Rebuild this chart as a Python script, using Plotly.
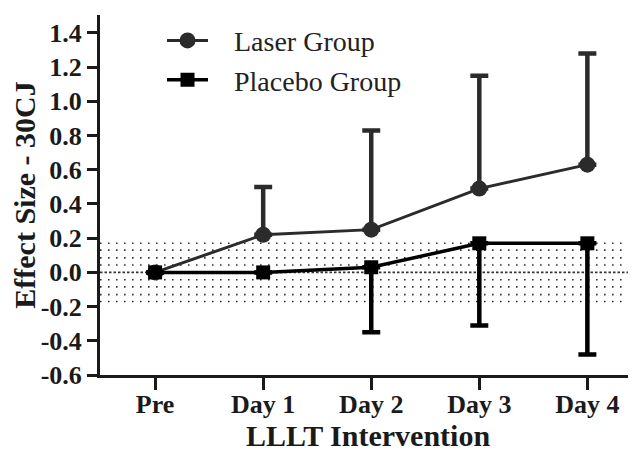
import plotly.graph_objects as go

categories = ["Pre", "Day 1", "Day 2", "Day 3", "Day 4"]

laser_mean = [0.0, 0.22, 0.25, 0.49, 0.63]
laser_err_up = [0.0, 0.28, 0.58, 0.66, 0.65]

placebo_mean = [0.0, 0.0, 0.03, 0.17, 0.17]
placebo_err_down = [0.0, 0.0, 0.38, 0.48, 0.65]

band_levels = [-0.17, -0.13, -0.085, -0.043, 0.043, 0.085, 0.13, 0.17]
zero_level = 0.0

y_tickvals = [-0.6, -0.4, -0.2, 0.0, 0.2, 0.4, 0.6, 0.8, 1.0, 1.2, 1.4]
y_ticktext = ["-0.6", "-0.4", "-0.2", "0.0", "0.2", "0.4", "0.6", "0.8", "1.0", "1.2", "1.4"]

series_names = ["Laser Group", "Placebo Group"]

LASER_C = "#2b2b2b"
PLACEBO_C = "#000000"
AXIS_C = "#1a1a1a"
SERIF = "Liberation Serif, Times New Roman, serif"
PAD = "\u00a0" * 3  # visual gap between legend symbol and label

fig = go.Figure()

fig.add_trace(go.Scatter(
    x=categories, y=laser_mean, name=PAD + series_names[0], mode="lines+markers",
    line=dict(color=LASER_C, width=3),
    marker=dict(symbol="circle", size=16, color=LASER_C),
    error_y=dict(type="data", symmetric=False, array=laser_err_up,
                 arrayminus=[0] * len(laser_err_up), color=LASER_C,
                 thickness=4.5, width=9),
))

fig.add_trace(go.Scatter(
    x=categories, y=placebo_mean, name=PAD + series_names[1], mode="lines+markers",
    line=dict(color=PLACEBO_C, width=3.5),
    marker=dict(symbol="square", size=14, color=PLACEBO_C),
    error_y=dict(type="data", symmetric=False, array=[0] * len(placebo_err_down),
                 arrayminus=placebo_err_down, color=PLACEBO_C,
                 thickness=4.5, width=9),
))

shapes = []
for lv in band_levels:
    shapes.append(dict(type="line", xref="paper", x0=0, x1=1, yref="y", y0=lv, y1=lv,
                       line=dict(color="#333333", width=1.6, dash="1.6px,6.4px"),
                       layer="below"))
shapes.append(dict(type="line", xref="paper", x0=0, x1=1, yref="y", y0=zero_level, y1=zero_level,
                   line=dict(color="#333333", width=1.6, dash="2.5px,2px"),
                   layer="below"))

fig.update_layout(
    width=628, height=444,
    margin=dict(l=92, r=0, t=7, b=77, autoexpand=False),
    paper_bgcolor="white", plot_bgcolor="white",
    shapes=shapes,
    showlegend=True,
    legend=dict(x=0.1157, y=0.998, xanchor="left", yanchor="top",
                font=dict(family=SERIF, size=28, color="#222222"),
                bgcolor="rgba(0,0,0,0)", itemwidth=41),
    xaxis=dict(
        type="category", categoryorder="array", categoryarray=categories,
        range=[-0.51, 4.45], automargin=False,
        showline=True, linecolor=AXIS_C, linewidth=3,
        ticks="outside", ticklen=12, tickwidth=3, tickcolor=AXIS_C,
        ticklabelstandoff=-8,
        tickfont=dict(family=SERIF, size=26, color="#1a1a1a", weight="bold"),
        showgrid=False, zeroline=False,
        title=dict(text="LLLT Intervention", standoff=26,
                   font=dict(family=SERIF, size=30, color="#1a1a1a", weight="bold")),
    ),
    yaxis=dict(
        range=[-0.6, 1.505], automargin=False,
        tickvals=y_tickvals, ticktext=y_ticktext,
        showline=True, linecolor=AXIS_C, linewidth=3,
        ticks="outside", ticklen=10, tickwidth=3, tickcolor=AXIS_C,
        tickfont=dict(family=SERIF, size=26, color="#1a1a1a", weight="bold"),
        showgrid=False, zeroline=False,
        title=dict(text="Effect Size - 30CJ", standoff=10,
                   font=dict(family=SERIF, size=30, color="#1a1a1a", weight="bold")),
    ),
)

fig.write_html("out.html")
